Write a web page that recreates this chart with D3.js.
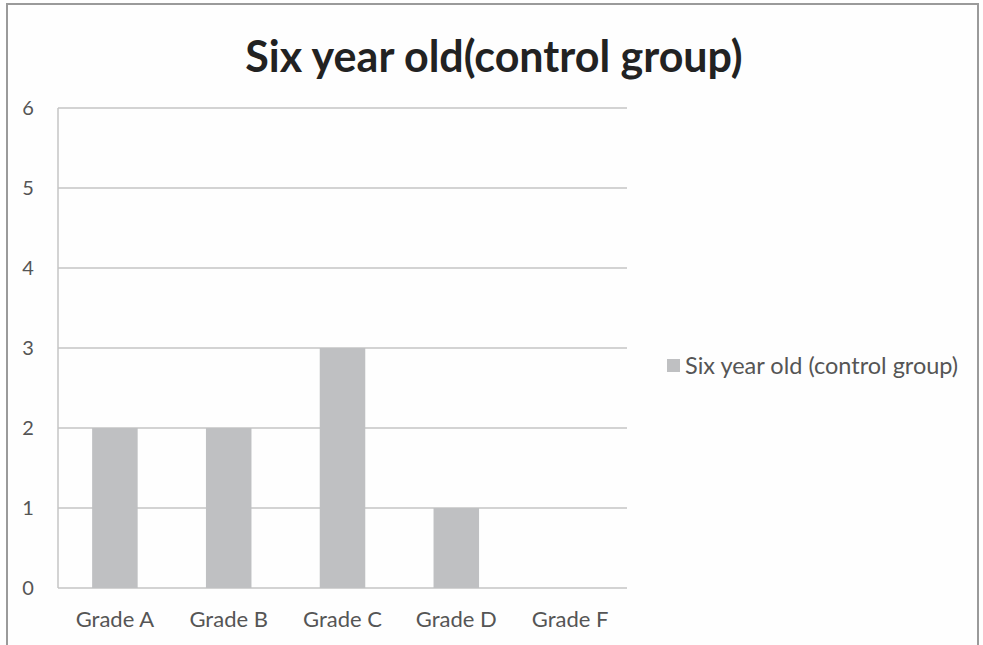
<!DOCTYPE html>
<html><head><meta charset="utf-8">
<script src="https://cdn.jsdelivr.net/npm/d3@7"></script>
<style>html,body{margin:0;padding:0;background:#fff;}svg{display:block;}</style>
</head><body>
<svg id="chart" width="983" height="645"></svg>
<script>
const categories = ["Grade A","Grade B","Grade C","Grade D","Grade F"];
const values = [2,2,3,1,0];
const yTicks = [0,1,2,3,4,5,6];
const seriesName = "Six year old (control group)";
const titleText = "Six year old(control group)";

const svg = d3.select("#chart");
const W = 983, H = 645;
const fontFam = "Lato, 'Open Sans', sans-serif";

svg.append("rect").attr("x",0).attr("y",0).attr("width",W).attr("height",H).attr("fill","#fefefe");
// outer frame
svg.append("path").attr("d","M7,650 V4 H978 V650").attr("fill","none").attr("stroke","#9a9a9a").attr("stroke-width",2);

const m = {l:58, r:627, t:108, b:588};
const x = d3.scaleBand().domain(categories).range([m.l, m.r]).padding(0);
const y = d3.scaleLinear().domain([0,6]).range([m.b, m.t]);

// gridlines
svg.append("g").selectAll("line").data(yTicks).join("line")
  .attr("x1", m.l).attr("x2", m.r)
  .attr("y1", d=>y(d)).attr("y2", d=>y(d))
  .attr("stroke","#c4c4c4").attr("stroke-width",1.5);
// left axis line
svg.append("line").attr("x1",m.l).attr("x2",m.l).attr("y1",m.t).attr("y2",m.b)
  .attr("stroke","#c4c4c4").attr("stroke-width",1.5);

// bars
const bw = x.bandwidth()*0.4;
svg.append("g").selectAll("rect").data(values).join("rect")
  .attr("x",(d,i)=>x(categories[i]) + x.bandwidth()/2 - bw/2)
  .attr("y",d=>y(d)).attr("width",bw).attr("height",d=>y(0)-y(d))
  .attr("fill","#bfc0c2");

// y tick labels
svg.append("g").selectAll("text").data(yTicks).join("text")
  .attr("x",28).attr("y",d=>y(d)).attr("dy","0.36em")
  .attr("text-anchor","middle").attr("font-family",fontFam).attr("font-size",20)
  .attr("fill","#555").text(d=>d);

// x labels
svg.append("g").selectAll("text").data(categories).join("text")
  .attr("x",d=>x(d)+x.bandwidth()/2).attr("y",627)
  .attr("text-anchor","middle").attr("font-family",fontFam).attr("font-size",22)
  .attr("fill","#555").text(d=>d);

// title
svg.append("text").attr("x",494).attr("y",72).attr("text-anchor","middle")
  .attr("font-family",fontFam).attr("font-weight","bold").attr("font-size",43)
  .attr("fill","#222").text(titleText);

// legend
svg.append("rect").attr("x",667).attr("y",359).attr("width",13).attr("height",13).attr("fill","#bfc0c2");
svg.append("text").attr("x",685).attr("y",374).attr("font-family",fontFam).attr("font-size",23.5)
  .attr("fill","#555").text(seriesName);
</script>
</body></html>
